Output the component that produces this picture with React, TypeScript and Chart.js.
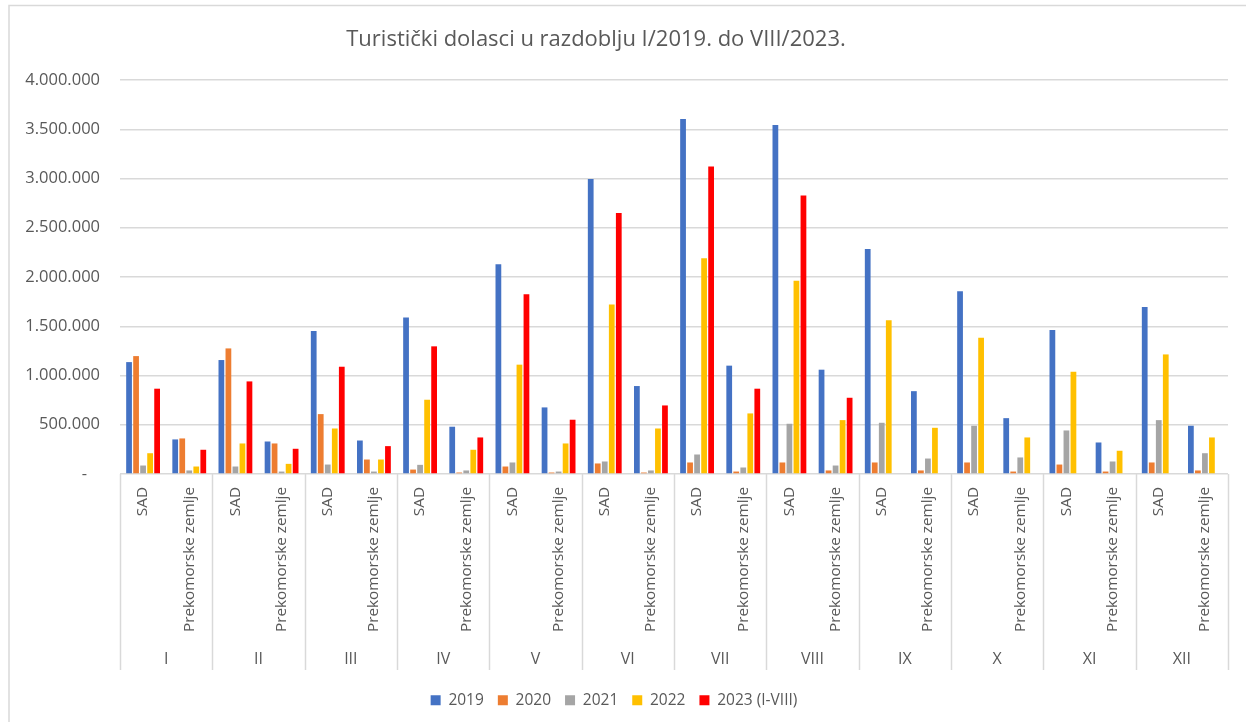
import React, { useEffect, useRef } from "react";
import { Chart, registerables } from "chart.js";

Chart.register(...registerables);

const titleText = "Turistički dolasci u razdoblju I/2019. do VIII/2023.";
const months = ["I", "II", "III", "IV", "V", "VI", "VII", "VIII", "IX", "X", "XI", "XII"];
const regions = ["SAD", "Prekomorske zemlje"];
const categoryLabels = months.flatMap(() => regions);
const seriesNames = ["2019", "2020", "2021", "2022", "2023 (I-VIII)"];
const seriesColors = ["#4472C4", "#ED7D31", "#A5A5A5", "#FFC000", "#FF0000"];

const values2019 = [1136000, 351000, 1157000, 330000, 1451000, 340000, 1590000, 480000, 2129000, 676000, 2996000, 893000, 3603000, 1100000, 3542000, 1059000, 2285000, 841000, 1855000, 567000, 1461000, 320000, 1695000, 490000];
const values2020 = [1197000, 361000, 1275000, 310000, 608000, 147000, 45000, 15000, 76000, 15000, 107000, 15000, 117000, 25000, 117000, 36000, 117000, 36000, 117000, 25000, 96000, 25000, 117000, 36000];
const values2021 = [86000, 36000, 76000, 25000, 96000, 25000, 93000, 36000, 117000, 25000, 127000, 36000, 198000, 66000, 510000, 86000, 520000, 157000, 490000, 168000, 442000, 127000, 547000, 211000];
const values2022 = [211000, 76000, 310000, 103000, 462000, 147000, 754000, 246000, 1110000, 310000, 1720000, 462000, 2190000, 615000, 1963000, 547000, 1560000, 469000, 1384000, 371000, 1038000, 236000, 1214000, 371000];
const values2023 = [866000, 246000, 940000, 256000, 1089000, 283000, 1296000, 371000, 1824000, 551000, 2651000, 696000, 3122000, 866000, 2827000, 774000, null, null, null, null, null, null, null, null];

const seriesValues = [values2019, values2020, values2021, values2022, values2023];

const yTickMax = 4000000;
const yTickStep = 500000;

const TEXT = "#595959";
const LINE = "#D9D9D9";
const FONT = "'Open Sans', sans-serif";

function fmt(v: number): string {
  if (v === 0) return "-   ";
  return String(v).replace(/\B(?=(\d{3})+(?!\d))/g, ".");
}

const decorPlugin = {
  id: "decor",
  beforeDraw(chart: any) {
    const ctx = chart.ctx;
    ctx.save();
    ctx.fillStyle = "#FFFFFF";
    ctx.fillRect(0, 0, chart.width, chart.height);
    ctx.strokeStyle = LINE;
    ctx.lineWidth = 1.5;
    ctx.beginPath();
    ctx.moveTo(9, chart.height + 2);
    ctx.lineTo(9, 5.5);
    ctx.lineTo(chart.width + 2, 5.5);
    ctx.stroke();
    ctx.restore();
  },
  afterDraw(chart: any) {
    const ctx = chart.ctx;
    const xs = chart.scales.x;
    const area = chart.chartArea;
    ctx.save();
    // title
    ctx.fillStyle = TEXT;
    ctx.font = `22px ${FONT}`;
    ctx.textAlign = "center";
    ctx.textBaseline = "middle";
    ctx.fillText(titleText, 596, 40);
    // rotated category labels
    ctx.font = `15.3px ${FONT}`;
    ctx.textAlign = "right";
    ctx.textBaseline = "middle";
    for (let i = 0; i < categoryLabels.length; i++) {
      const px = xs.getPixelForValue(i);
      ctx.save();
      ctx.translate(px, area.bottom + 13);
      ctx.rotate(-Math.PI / 2);
      ctx.fillText(categoryLabels[i], 0, 0);
      ctx.restore();
    }
    // group separators
    const step = (xs.right - xs.left) / months.length;
    ctx.strokeStyle = LINE;
    ctx.lineWidth = 1.5;
    ctx.beginPath();
    for (let k = 0; k <= months.length; k++) {
      const gx = Math.round(xs.left + k * step) + 0.5;
      ctx.moveTo(gx, area.bottom);
      ctx.lineTo(gx, 670);
    }
    ctx.stroke();
    // month labels
    ctx.font = `16px ${FONT}`;
    ctx.textAlign = "center";
    for (let m = 0; m < months.length; m++) {
      ctx.fillText(months[m], xs.left + (m + 0.5) * step, 659);
    }
    ctx.restore();
  },
};

export default function App() {
  const canvasRef = useRef<HTMLCanvasElement | null>(null);

  useEffect(() => {
    if (!canvasRef.current) return;
    const chart = new Chart(canvasRef.current, {
      type: "bar",
      data: {
        labels: categoryLabels.map((r, i) => `${months[Math.floor(i / 2)]} ${r}`),
        datasets: seriesNames.map((name, s) => ({
          label: name,
          data: seriesValues[s],
          backgroundColor: seriesColors[s],
          borderWidth: 0,
          categoryPercentage: 0.76,
          barPercentage: 0.82,
        })),
      },
      plugins: [decorPlugin],
      options: {
        animation: false,
        responsive: false,
        maintainAspectRatio: false,
        layout: { padding: { top: 80, right: 18, bottom: 4, left: 0 } },
        plugins: {
          title: { display: false },
          tooltip: { enabled: false },
          legend: {
            display: true,
            position: "bottom",
            labels: {
              boxWidth: 10,
              boxHeight: 10,
              padding: 14,
              color: TEXT,
              font: { family: FONT, size: 15.5 },
            },
          },
        },
        scales: {
          x: {
            type: "category",
            ticks: { display: false },
            grid: { display: false },
            border: { display: false },
            afterFit: (scale: any) => {
              scale.height = 204.5;
            },
          },
          y: {
            min: 0,
            max: yTickMax,
            ticks: {
              stepSize: yTickStep,
              color: TEXT,
              padding: 20,
              font: { family: FONT, size: 16.5 },
              callback: (v: any) => fmt(Number(v)),
            },
            grid: { color: LINE, lineWidth: 1.5, drawTicks: false },
            border: { display: false },
            afterFit: (scale: any) => {
              scale.width = 120;
            },
          },
        },
      },
    });
    return () => chart.destroy();
  }, []);

  return (
    <div style={{ position: "fixed", left: 0, top: 0, width: 1246, height: 722, background: "#fff" }}>
      <canvas ref={canvasRef} width={1246} height={722} style={{ display: "block" }} />
    </div>
  );
}
